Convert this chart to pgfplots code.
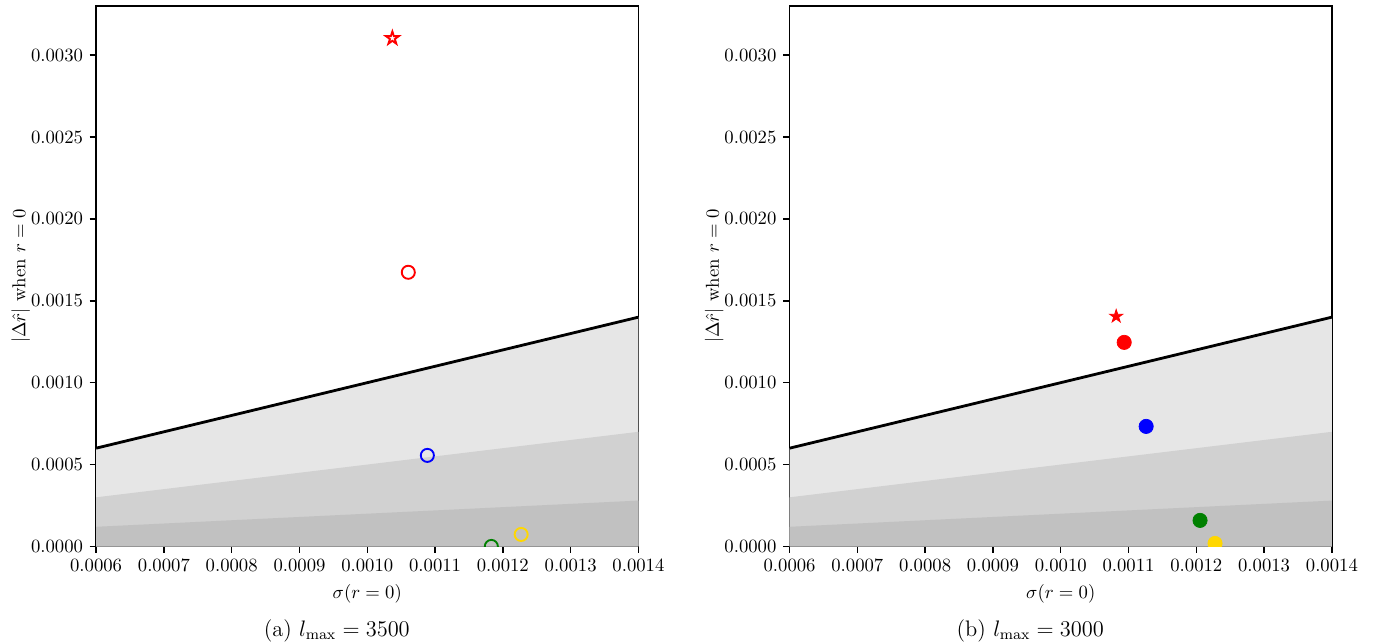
\documentclass[border=0pt]{standalone}
\usepackage{pgfplots}
\pgfplotsset{compat=1.18}
\usetikzlibrary{plotmarks}
\definecolor{g1}{RGB}{230,230,230}
\definecolor{g2}{RGB}{209,209,209}
\definecolor{g3}{RGB}{193,193,193}
\definecolor{mgold}{RGB}{255,215,0}
\definecolor{mgreen}{RGB}{0,128,0}
\pgfdeclareplotmark{mystar}{%
  \pgfpathmoveto{\pgfpointpolar{90}{\pgfplotmarksize}}%
  \pgfpathlineto{\pgfpointpolar{126}{0.382\pgfplotmarksize}}%
  \pgfpathlineto{\pgfpointpolar{162}{\pgfplotmarksize}}%
  \pgfpathlineto{\pgfpointpolar{198}{0.382\pgfplotmarksize}}%
  \pgfpathlineto{\pgfpointpolar{234}{\pgfplotmarksize}}%
  \pgfpathlineto{\pgfpointpolar{270}{0.382\pgfplotmarksize}}%
  \pgfpathlineto{\pgfpointpolar{306}{\pgfplotmarksize}}%
  \pgfpathlineto{\pgfpointpolar{342}{0.382\pgfplotmarksize}}%
  \pgfpathlineto{\pgfpointpolar{18}{\pgfplotmarksize}}%
  \pgfpathlineto{\pgfpointpolar{54}{0.382\pgfplotmarksize}}%
  \pgfpathclose
  \pgfusepathqfillstroke
}
\pgfplotsset{
  myax/.style={
    width=290pt, height=289pt, scale only axis,
    xmin=0.0006, xmax=0.0014, ymin=0, ymax=0.0033,
    xtick={0.0006,0.0007,0.0008,0.0009,0.0010,0.0011,0.0012,0.0013,0.0014},
    ytick={0,0.0005,0.0010,0.0015,0.0020,0.0025,0.0030},
    scaled ticks=false,
    /pgf/number format/fixed,
    /pgf/number format/fixed zerofill,
    /pgf/number format/precision=4,
    tick align=outside, xtick pos=left, ytick pos=left,
    major tick length=3.5pt,
    tick style={black, line width=0.8pt},
    axis line style={line width=0.8pt},
    xlabel={$\sigma(r=0)$},
    ylabel={$|\Delta\hat{r}|$ when $r=0$},
    ylabel shift=-6.4pt,
    clip marker paths=true,
  },
}
\begin{document}
\begin{tikzpicture}
\path[use as bounding box] (-51.4pt,-52pt) rectangle (683.3pt,292.2pt);
% ---------- (a)
\begin{axis}[myax, at={(0pt,0pt)}, anchor=south west, name=axa]
\addplot[draw=none, fill=g1] coordinates {(0.0006,0.0006) (0.0014,0.0014)} \closedcycle;
\addplot[draw=none, fill=g2] coordinates {(0.0006,0.0003) (0.0014,0.0007)} \closedcycle;
\addplot[draw=none, fill=g3] coordinates {(0.0006,0.00012) (0.0014,0.00028)} \closedcycle;
\addplot[black, line width=1.5pt] coordinates {(0.0006,0.0006) (0.0014,0.0014)};
\addplot[only marks, mark=mystar, mark size=3.6pt, red, mark options={fill=white, line width=1pt}] coordinates {(0.001037,0.003103)};
\addplot[only marks, mark=o, mark size=3.5pt, red, mark options={line width=1pt}] coordinates {(0.0010605,0.001674)};
\addplot[only marks, mark=o, mark size=3.5pt, blue, mark options={line width=1pt}] coordinates {(0.0010886,0.000556)};
\addplot[only marks, mark=o, mark size=3.5pt, mgreen, mark options={line width=1pt}] coordinates {(0.001183,0.0)};
\addplot[only marks, mark=o, mark size=3.5pt, mgold, mark options={line width=1pt}] coordinates {(0.001227,0.0000733)};
\end{axis}
% ---------- (b)
\begin{axis}[myax, at={(370.8pt,0pt)}, anchor=south west, name=axb]
\addplot[draw=none, fill=g1] coordinates {(0.0006,0.0006) (0.0014,0.0014)} \closedcycle;
\addplot[draw=none, fill=g2] coordinates {(0.0006,0.0003) (0.0014,0.0007)} \closedcycle;
\addplot[draw=none, fill=g3] coordinates {(0.0006,0.00012) (0.0014,0.00028)} \closedcycle;
\addplot[black, line width=1.5pt] coordinates {(0.0006,0.0006) (0.0014,0.0014)};
\addplot[only marks, mark=mystar, mark size=3.6pt, red, mark options={fill=red, line width=0.5pt}] coordinates {(0.0010818,0.001405)};
\addplot[only marks, mark=*, mark size=3.8pt, red, mark options={fill=red, draw=red}] coordinates {(0.0010936,0.001246)};
\addplot[only marks, mark=*, mark size=3.8pt, blue, mark options={fill=blue, draw=blue}] coordinates {(0.001126,0.000733)};
\addplot[only marks, mark=*, mark size=3.8pt, mgreen, mark options={fill=mgreen, draw=mgreen}] coordinates {(0.0012055,0.000159)};
\addplot[only marks, mark=*, mark size=3.8pt, mgold, mark options={fill=mgold, draw=mgold}] coordinates {(0.0012276,0.0000183)};
\end{axis}
\node[font=\large] at ([xshift=-16.3pt, yshift=-45pt]axa.south) {(a) $l_{\max}=3500$};
\node[font=\large] at ([xshift=-16.3pt, yshift=-45pt]axb.south) {(b) $l_{\max}=3000$};
\end{tikzpicture}
\end{document}
